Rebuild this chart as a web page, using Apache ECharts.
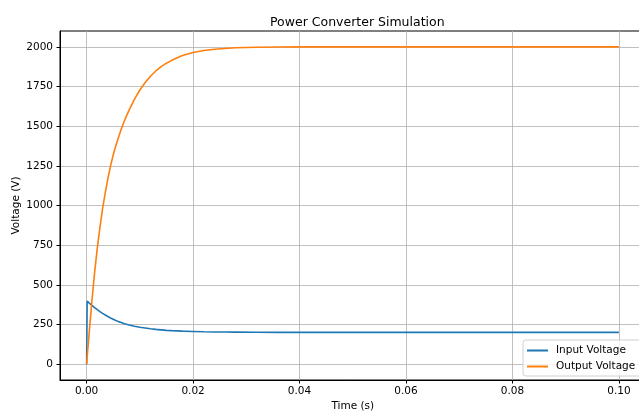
<!DOCTYPE html>
<html>
<head>
<meta charset="utf-8">
<script src="https://cdn.jsdelivr.net/npm/echarts@6/dist/echarts.min.js"></script>
<style>
  html, body { margin: 0; padding: 0; background: #fff; }
  #main { width: 639px; height: 414px; }
</style>
</head>
<body>
<div id="main"></div>
<script>
// time samples (s)
var timeS = [0, 0.0001, 0.0005, 0.001, 0.0015, 0.002, 0.0025, 0.003, 0.0035, 0.004, 0.0045, 0.005,
  0.0055, 0.006, 0.0065, 0.007, 0.0075, 0.008, 0.009, 0.010, 0.011, 0.012, 0.013, 0.014, 0.015, 0.016,
  0.018, 0.020, 0.022, 0.024, 0.026, 0.028, 0.032, 0.036, 0.04, 0.05, 0.06, 0.07, 0.08, 0.09, 0.1];
var inputVoltage = [0, 398, 385, 370, 356, 343, 331, 320, 310, 300, 291, 283,
  275, 268, 262, 256, 251, 247, 239, 233, 228, 223, 219, 216, 213, 211,
  208, 206, 204, 203, 202.5, 202, 201, 200.5, 200, 200, 200, 200, 200, 200, 200];
var outputVoltage = [0, 43, 205, 400, 575, 730, 860, 980, 1080, 1170, 1250, 1320,
  1378, 1430, 1480, 1525, 1565, 1603, 1670, 1728, 1775, 1815, 1848, 1875, 1897, 1915,
  1945, 1965, 1977, 1985, 1990, 1994, 1998, 1999, 2000, 2000, 2000, 2000, 2000, 2000, 2000];
var xTicks = [0, 0.02, 0.04, 0.06, 0.08, 0.1];
var yTicks = [0, 250, 500, 750, 1000, 1250, 1500, 1750, 2000];

function pairs(xs, ys) {
  var out = [];
  for (var i = 0; i < xs.length; i++) out.push([xs[i], ys[i]]);
  return out;
}

var chart = echarts.init(document.getElementById('main'));
var font = 'DejaVu Sans';
var option = {
  animation: false,
  backgroundColor: '#fff',
  title: {
    text: 'Power Converter Simulation',
    left: 265,
    top: 11,
    textStyle: { fontFamily: font, fontSize: 12.5, fontWeight: 'normal', color: '#000' }
  },
  grid: {
    left: 60, right: -6.5, top: 31, bottom: 34,
    containLabel: false, outerBoundsMode: 'none',
    show: true, borderColor: '#000', borderWidth: 1, backgroundColor: 'transparent'
  },
  legend: {
    orient: 'vertical',
    left: 523, top: 340,
    itemWidth: 21, itemHeight: 2, itemGap: 5,
    padding: [5, 8, 4, 4],
    backgroundColor: 'rgba(255,255,255,0.8)',
    borderColor: '#d0d0d0', borderWidth: 1, borderRadius: 3,
    textStyle: { fontFamily: font, fontSize: 10.5, color: '#000', padding: [0, 0, 0, 3] },
    data: [
      { name: 'Input Voltage', icon: 'rect' },
      { name: 'Output Voltage', icon: 'rect' }
    ]
  },
  xAxis: {
    type: 'value',
    min: -0.005, max: 0.105,
    name: 'Time (s)', nameLocation: 'middle', nameGap: 21, nameMoveOverlap: false,
    nameTextStyle: { fontFamily: font, fontSize: 10.5, color: '#000' },
    axisLine: { show: true, onZero: false, lineStyle: { color: '#000', width: 1 } },
    axisTick: { show: true, length: 3.5, customValues: xTicks, lineStyle: { color: '#000' } },
    axisLabel: {
      customValues: xTicks, margin: 6, fontFamily: font, fontSize: 10.5, color: '#000',
      formatter: function (v) { return v.toFixed(2); }
    },
    splitLine: { show: true, lineStyle: { color: '#b0b0b0', width: 0.8 } }
  },
  yAxis: {
    type: 'value',
    min: -100, max: 2100,
    name: 'Voltage (V)', nameLocation: 'middle', nameGap: 38, nameMoveOverlap: false,
    nameTextStyle: { fontFamily: font, fontSize: 10.5, color: '#000' },
    axisLine: { show: true, onZero: false, lineStyle: { color: '#000', width: 1 } },
    axisTick: { show: true, length: 3.5, customValues: yTicks, lineStyle: { color: '#000' } },
    axisLabel: {
      customValues: yTicks, margin: 7, fontFamily: font, fontSize: 10.5, color: '#000',
      formatter: function (v) { return String(v); }
    },
    splitLine: { show: true, lineStyle: { color: '#b0b0b0', width: 0.8 } }
  },
  series: [
    {
      name: 'Input Voltage', type: 'line', showSymbol: false,
      data: pairs(timeS, inputVoltage),
      itemStyle: { color: '#1f77b4' },
      lineStyle: { color: '#1f77b4', width: 1.6 }
    },
    {
      name: 'Output Voltage', type: 'line', showSymbol: false,
      data: pairs(timeS, outputVoltage),
      itemStyle: { color: '#ff7f0e' },
      lineStyle: { color: '#ff7f0e', width: 1.6 }
    }
  ]
};
chart.setOption(option);
</script>
</body>
</html>
